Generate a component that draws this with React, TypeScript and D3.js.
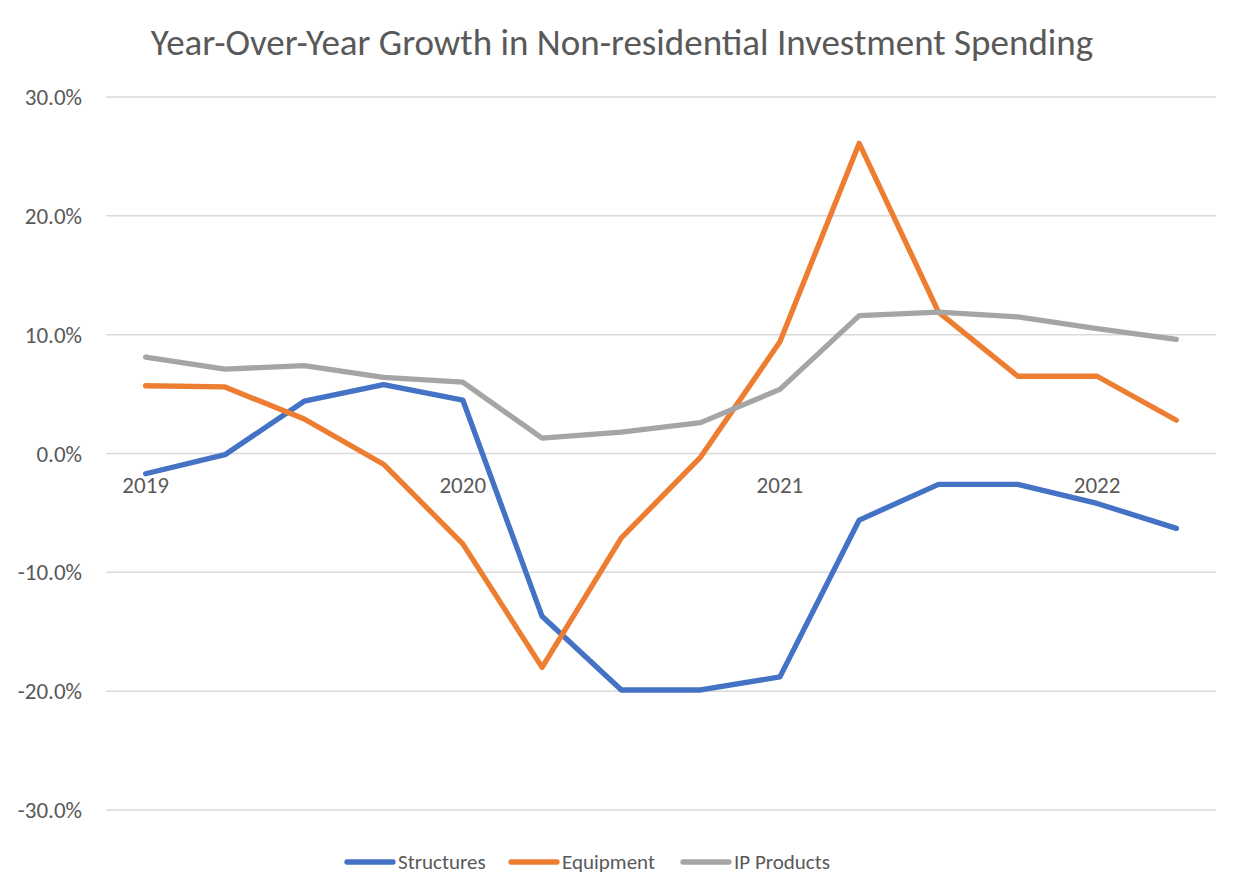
import React from "react";
import * as d3 from "d3";

const quarters = ["2019Q1","2019Q2","2019Q3","2019Q4","2020Q1","2020Q2","2020Q3","2020Q4","2021Q1","2021Q2","2021Q3","2021Q4","2022Q1","2022Q2"];
const yearLabels = ["2019","","","","2020","","","","2021","","","","2022",""];
const structures = [-1.7, -0.1, 4.4, 5.8, 4.5, -13.7, -19.9, -19.9, -18.8, -5.6, -2.6, -2.6, -4.2, -6.3];
const equipment = [5.7, 5.6, 2.9, -0.9, -7.6, -18.0, -7.1, -0.3, 9.4, 26.1, 11.9, 6.5, 6.5, 2.8];
const ipProducts = [8.1, 7.1, 7.4, 6.4, 6.0, 1.3, 1.8, 2.6, 5.4, 11.6, 11.9, 11.5, 10.5, 9.6];
const yTicks = [-30, -20, -10, 0, 10, 20, 30];
const seriesNames = ["Structures", "Equipment", "IP Products"];
const seriesColors = ["#4472C4", "#ED7D31", "#A5A5A5"];

const W = 1242, H = 896;
const FONT = "Calibri, Carlito, Lato, 'Open Sans', sans-serif";
const fmt = d3.formatLocale({ decimal: ".", thousands: ",", grouping: [3], currency: ["", ""], minus: "-" }).format(".1f");

export default function App() {
  const x = d3.scaleBand<string>().domain(quarters).range([106, 1216]);
  const y = d3.scaleLinear().domain([-30, 30]).range([810, 97]);
  const cx = (q: string) => (x(q) as number) + x.bandwidth() / 2;
  const line = d3.line<number>().x((_, i) => cx(quarters[i])).y(d => y(d));
  const all = [structures, equipment, ipProducts];
  const legendX = [347, 511, 683];
  return (
    <svg width={W} height={H} style={{ position: "absolute", left: 0, top: 0, background: "#fff" }} fontFamily={FONT}>
      <rect width={W} height={H} fill="#fff" />
      <text x={622} y={55} textAnchor="middle" fontSize={37} fill="#595959">Year-Over-Year Growth in Non-residential Investment Spending</text>
      {yTicks.map(t => (
        <g key={t}>
          <line x1={106} x2={1216} y1={y(t)} y2={y(t)} stroke="#D9D9D9" strokeWidth={1.5} />
          <text x={82} y={y(t)} dy="0.35em" textAnchor="end" fontSize={23} fill="#595959">{fmt(t)}%</text>
        </g>
      ))}
      {quarters.map((q, i) => yearLabels[i] ? (
        <text key={q} x={cx(q)} y={y(0) + 39} textAnchor="middle" fontSize={23} fill="#595959">{yearLabels[i]}</text>
      ) : null)}
      {all.map((s, k) => (
        <path key={k} d={line(s) || ""} fill="none" stroke={seriesColors[k]} strokeWidth={5.3} strokeLinejoin="round" strokeLinecap="round" />
      ))}
      {seriesNames.map((n, k) => (
        <g key={n}>
          <line x1={legendX[k]} x2={legendX[k] + 46} y1={862} y2={862} stroke={seriesColors[k]} strokeWidth={5.3} strokeLinecap="round" />
          <text x={legendX[k] + 51} y={862} dy="0.35em" fontSize={21} fill="#595959">{n}</text>
        </g>
      ))}
    </svg>
  );
}
